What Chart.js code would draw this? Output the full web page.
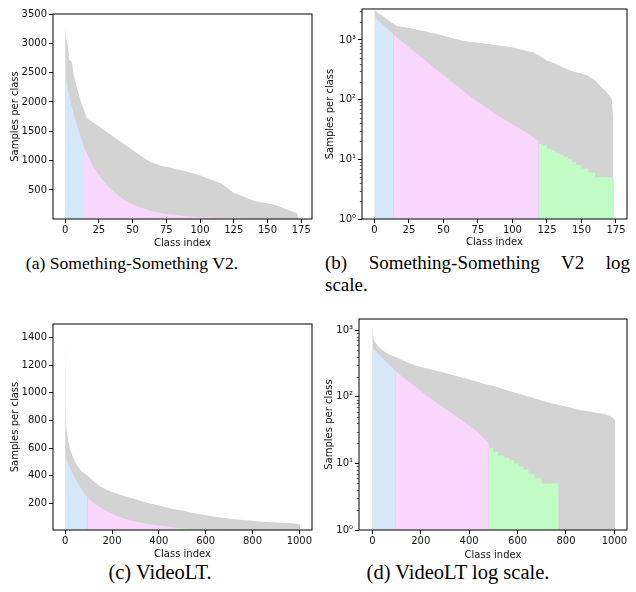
<!DOCTYPE html>
<html>
<head>
<meta charset="utf-8">
<script src="https://cdn.jsdelivr.net/npm/chart.js@4.4.1/dist/chart.umd.min.js"></script>
<style>
  html, body { margin: 0; padding: 0; background: #fff; }
  #page { position: relative; width: 636px; height: 592px; overflow: hidden; }
  canvas { position: absolute; }
  .caption {
    position: absolute;
    font-family: "Liberation Serif", "DejaVu Serif", serif;
    font-size: 18.5px;
    line-height: 20px;
    color: #000;
    white-space: nowrap;
  }
  .centered { transform: translateX(-50%); }
</style>
</head>
<body>
<div id="page">
  <canvas id="chart-a" width="318" height="249" style="left:0;top:0"></canvas>
  <canvas id="chart-b" width="318" height="248" style="left:318px;top:0"></canvas>
  <canvas id="chart-c" width="318" height="260" style="left:0;top:300px"></canvas>
  <canvas id="chart-d" width="318" height="261" style="left:318px;top:300px"></canvas>

  <div class="caption centered" style="left:132px;top:253px;font-size:17.6px">(a) Something-Something V2.</div>
  <div class="caption" style="left:325px;top:253px;width:305px;text-align:justify;text-align-last:justify;white-space:normal;font-size:19px">(b) Something-Something V2 log</div>
  <div class="caption" style="left:325px;top:275px;font-size:19px">scale.</div>
  <div class="caption centered" style="left:160px;top:562px;font-size:20.5px">(c) VideoLT.</div>
  <div class="caption centered" style="left:458px;top:562px;font-size:20.5px">(d) VideoLT log scale.</div>
</div>

<script>
// ---- Something-Something V2 (174 classes, sorted) ----
const ssvClassIdx = [0, 1, 2, 3, 5, 6, 8, 10, 12, 14, 16, 20, 26, 32, 38, 44, 50, 56, 63, 70, 77, 85, 92, 100, 105, 110, 115, 120, 125, 130, 135, 140, 145, 150, 155, 160, 164, 168, 171, 172, 173];
const ssvSamples  = [3240, 3050, 2950, 2720, 2680, 2520, 2300, 2150, 1980, 1860, 1730, 1660, 1570, 1470, 1370, 1280, 1180, 1080, 980, 920, 885, 840, 800, 750, 700, 660, 620, 540, 450, 410, 360, 320, 290, 275, 250, 210, 165, 137, 110, 100, 45];

const ssvHeadIdx = [0, 4, 9, 14];
const ssvHeadVal = [2450, 2000, 1580, 1230];
const ssvMidIdx  = [14, 20, 26, 32, 38, 44, 50, 56, 62, 68, 75, 82, 88, 96, 104, 112, 119];
const ssvMidVal  = [1230, 930, 720, 560, 430, 330, 255, 200, 155, 120, 92, 72, 57, 44, 34, 26, 20];
const ssvTailIdx = [119, 122, 125, 128, 131, 134, 137, 140, 143, 146, 150, 155, 160, 166, 173.5];
const ssvTailVal = [20, 18, 17, 15, 14, 13, 12, 11, 10, 9, 8, 7, 6, 5, 5];

// ---- VideoLT (1004 classes, sorted) ----
const vltClassIdx = [0, 1, 2, 3, 5, 8, 12, 15, 25, 33, 45, 54, 70, 95, 120, 150, 185, 220, 255, 290, 325, 358, 395, 430, 465, 503, 552, 590, 621, 655, 690, 725, 759, 795, 828, 862, 897, 930, 960, 985, 994, 1003];
const vltSamples  = [1460, 1200, 980, 850, 760, 700, 660, 635, 570, 535, 490, 465, 430, 400, 360, 320, 290, 270, 250, 233, 215, 200, 185, 170, 155, 145, 126, 115, 107, 98, 90, 83, 77, 72, 67, 63, 60, 57, 55, 51, 48, 44];

const vltHeadIdx = [0, 20, 45, 70, 95];
const vltHeadVal = [550, 455, 370, 300, 245];
const vltMidIdx  = [95, 120, 150, 185, 220, 255, 289, 325, 358, 390, 427, 455, 481];
const vltMidVal  = [245, 205, 169, 135, 107, 87, 71, 58, 47.5, 39, 31.7, 25, 20];
const vltTailIdx = [481, 500, 520, 545, 565, 585, 605, 625, 645, 670, 700, 730, 770];
const vltTailVal = [19, 17, 15, 13, 12, 11, 10, 9, 8, 7, 6, 5, 5];

// ---- tick labels ----
const ssvXTicks = [0, 25, 50, 75, 100, 125, 150, 175];
const vltXTicks = [0, 200, 400, 600, 800, 1000];
const ssvLinYTicks = [500, 1000, 1500, 2000, 2500, 3000, 3500];
const vltLinYTicks = [200, 400, 600, 800, 1000, 1200, 1400];
const logMajorTicks = [1, 10, 100, 1000];
const logMinorTicks = [2, 3, 4, 5, 6, 7, 8, 9, 20, 30, 40, 50, 60, 70, 80, 90, 200, 300, 400, 500, 600, 700, 800, 900, 2000, 3000];

const COLORS = {
    gray: '#d3d3d3',
    head: '#d5e8fa',
    mid: '#f9d6fb',
    tail: '#c1fcc5'
};
const TXT = '#111';
const AXIS_FONT = { family: 'DejaVu Sans', size: 10 };
const SUP = ['\u2070', '\u00b9', '\u00b2', '\u00b3'];

const toPoints = (xs, ys) => xs.map((x, i) => ({ x, y: ys[i] }));

// marco de los ejes + ticks menores en escala log
const framePlugin = {
    id: 'frame',
    afterDraw(chart) {
        const { ctx, chartArea: a } = chart;
        ctx.save();
        ctx.strokeStyle = '#000';
        ctx.lineWidth = 1;
        ctx.strokeRect(a.left, a.top, a.right - a.left, a.bottom - a.top);
        const y = chart.scales.y;
        if (y.type === 'logarithmic') {
            ctx.lineWidth = 0.6;
            ctx.beginPath();
            logMinorTicks.forEach(v => {
                if (v > y.max) return;
                const py = Math.round(y.getPixelForValue(v)) + 0.5;
                ctx.moveTo(a.left, py);
                ctx.lineTo(a.left - 2.2, py);
            });
            ctx.stroke();
        }
        ctx.restore();
    }
};

function buildPanel(id, p) {
    const datasets = [
        { data: toPoints(p.headX, p.headY), backgroundColor: COLORS.head, order: 0 },
        { data: toPoints(p.midX, p.midY), backgroundColor: COLORS.mid, order: 0 },
        { data: toPoints(p.tailX, p.tailY), backgroundColor: COLORS.tail, stepped: 'after', order: 0 },
        { data: toPoints(p.allX, p.allY), backgroundColor: COLORS.gray, order: 1 }
    ].map(d => Object.assign({ fill: 'start', borderWidth: 0, pointRadius: 0, tension: 0 }, d));

    const yScale = {
        type: p.log ? 'logarithmic' : 'linear',
        min: p.yMin,
        max: p.yMax,
        afterFit: s => { s.width = p.yAxisW; },
        afterBuildTicks: s => { s.ticks = p.yTicks.map(v => ({ value: v })); },
        ticks: {
            autoSkip: false,
            padding: 2,
            color: TXT,
            font: AXIS_FONT,
            callback: v => p.log ? '10' + SUP[Math.round(Math.log10(v))] : String(v)
        },
        grid: { drawOnChartArea: false, tickLength: 4, tickColor: '#000', tickWidth: 1 },
        border: { display: false },
        title: { display: true, text: 'Samples per class', color: TXT, font: AXIS_FONT, padding: { top: p.yTitlePad, bottom: 0 } }
    };

    return new Chart(document.getElementById(id), {
        type: 'line',
        data: { datasets },
        options: {
            responsive: false,
            animation: false,
            layout: { padding: { top: p.padTop, right: p.padRight, left: 0, bottom: 0 } },
            plugins: { legend: { display: false }, tooltip: { enabled: false } },
            scales: {
                x: {
                    type: 'linear',
                    min: p.xMin,
                    max: p.xMax,
                    afterFit: s => { s.height = p.xAxisH; },
                    afterBuildTicks: s => { s.ticks = p.xTicks.map(v => ({ value: v })); },
                    ticks: { autoSkip: false, maxRotation: 0, padding: 1, color: TXT, font: AXIS_FONT, callback: v => String(v) },
                    grid: { drawOnChartArea: false, tickLength: 4, tickColor: '#000', tickWidth: 1 },
                    border: { display: false },
                    title: { display: true, text: 'Class index', color: TXT, font: AXIS_FONT, padding: 0 }
                },
                y: yScale
            }
        },
        plugins: [framePlugin]
    });
}

const ssvData = {
    allX: ssvClassIdx, allY: ssvSamples,
    headX: ssvHeadIdx, headY: ssvHeadVal,
    midX: ssvMidIdx, midY: ssvMidVal,
    tailX: ssvTailIdx, tailY: ssvTailVal,
    xMin: -9, xMax: 183, xTicks: ssvXTicks
};
const vltData = {
    allX: vltClassIdx, allY: vltSamples,
    headX: vltHeadIdx, headY: vltHeadVal,
    midX: vltMidIdx, midY: vltMidVal,
    tailX: vltTailIdx, tailY: vltTailVal,
    xMin: -52, xMax: 1054, xTicks: vltXTicks
};

buildPanel('chart-a', Object.assign({}, ssvData, {
    log: false, yMin: 5, yMax: 3500, yTicks: ssvLinYTicks,
    padTop: 14, padRight: 6, yAxisW: 53, xAxisH: 30, yTitlePad: 9
}));
buildPanel('chart-b', Object.assign({}, ssvData, {
    log: true, yMin: 1, yMax: 3300, yTicks: logMajorTicks,
    padTop: 9, padRight: 9, yAxisW: 44, xAxisH: 29, yTitlePad: 6
}));
buildPanel('chart-c', Object.assign({}, vltData, {
    log: false, yMin: 5, yMax: 1500, yTicks: vltLinYTicks,
    padTop: 24, padRight: 6, yAxisW: 53, xAxisH: 30, yTitlePad: 9
}));
buildPanel('chart-d', Object.assign({}, vltData, {
    log: true, yMin: 1, yMax: 1470, yTicks: logMajorTicks,
    padTop: 19, padRight: 9, yAxisW: 41, xAxisH: 31, yTitlePad: 5,
    xMin: -55, xMax: 1052
}));
</script>
</body>
</html>
